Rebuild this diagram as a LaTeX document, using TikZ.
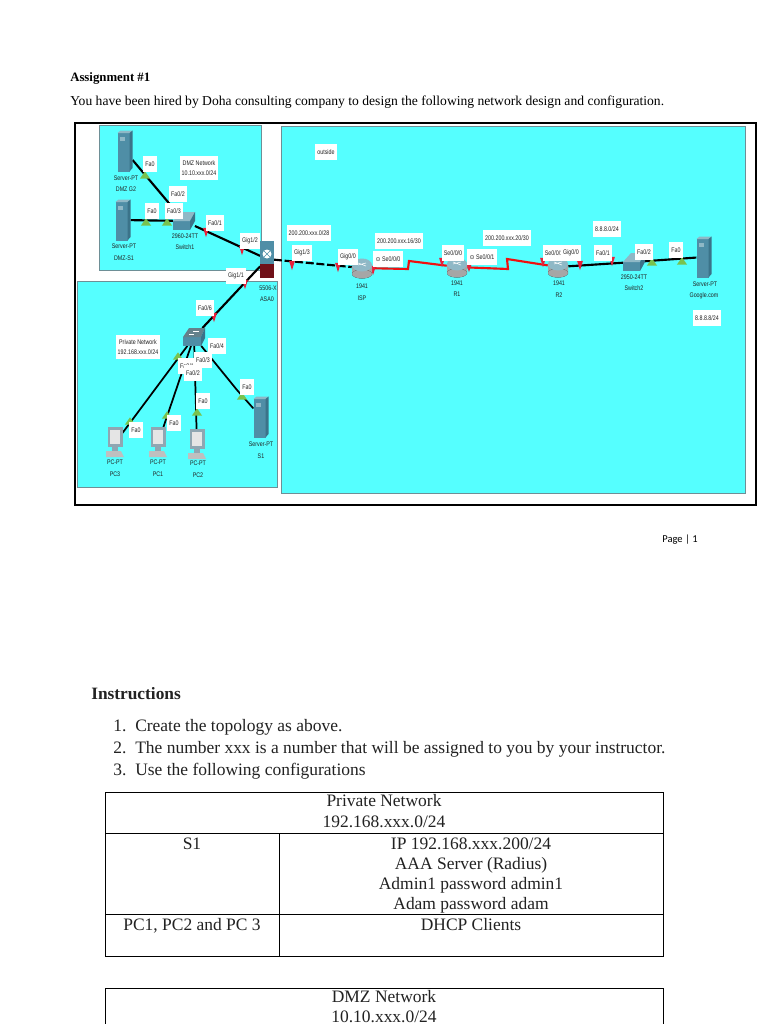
\documentclass[tikz,border=0pt]{standalone}
\usepackage{fontspec}
\usepackage{xcolor}
\setmainfont{Liberation Serif}
\newfontfamily\lblfont[FakeStretch=0.8]{Liberation Sans}
\newfontfamily\pagefont{Carlito}
\newfontfamily\clockfont{DejaVu Sans}
\usetikzlibrary{shapes.geometric, positioning}
\definecolor{panelfill}{HTML}{55FFFF}
\definecolor{paneldraw}{HTML}{6E8F96}
\definecolor{devfront}{HTML}{4F8EA6}
\definecolor{devtop}{HTML}{8FB8C6}
\definecolor{devside}{HTML}{3B7389}
\definecolor{redlink}{HTML}{F01010}
\definecolor{redtip}{HTML}{E8203A}
\definecolor{greentip}{HTML}{79C24E}
\definecolor{asared}{HTML}{701018}
\definecolor{pcgrey}{HTML}{8FA6B2}
\definecolor{inktext}{HTML}{222222}
\tikzset{
  panel/.style={draw=paneldraw, fill=panelfill, line width=0.5pt},
  lbl/.style={fill=white, inner xsep=1.6pt, inner ysep=0pt, minimum height=12.5pt, align=center, text=inktext, font=\lblfont\fontsize{5}{7.6}\selectfont},
  devtxt/.style={inner sep=0pt, text=inktext, font=\lblfont\fontsize{5}{7}\selectfont},
  devbox/.style 2 args={inner sep=0pt, minimum width=#1, minimum height=#2},
  link/.style={line width=1.6pt, draw=black},
  seriallink/.style={line width=1.6pt, draw=redlink},
  redmark/.style={isosceles triangle, isosceles triangle apex angle=35, fill=redtip, inner sep=0pt, minimum height=7pt, shape border rotate=270},
  grnmark/.style={isosceles triangle, isosceles triangle apex angle=70, fill=greentip, inner sep=0pt, minimum height=5.5pt, shape border rotate=90},
  body/.style={inner sep=0pt, text height=9pt, text depth=3pt, text=inktext, font=\fontsize{13.1}{15}\selectfont},
  rule/.style={line width=0.6pt, draw=black},
  serverpic/.pic={
    \fill[devfront] (-7.5,-18) rectangle (4.5,20.5);
    \fill[devtop] (-7.5,-18) -- (-4.5,-20.5) -- (7.5,-20.5) -- (4.5,-18) -- cycle;
    \fill[devside] (4.5,-18) -- (7.5,-20.5) -- (7.5,17) -- (4.5,20.5) -- cycle;
    \fill[devtop] (-5.5,-14) rectangle (-0.5,-10.5);
  },
  switchpic/.pic={
    \fill[devfront] (-11,0) rectangle (6,9);
    \fill[devtop] (-11,0) -- (-3,-9) -- (11,-9) -- (6,0) -- cycle;
    \fill[devside] (6,0) -- (11,-9) -- (11,0) -- (6,9) -- cycle;
  },
  mlswitchpic/.pic={
    \fill[devfront] (-11,0) rectangle (7,9);
    \fill[devtop!70!black] (-11,0) -- (-5,-9) -- (11,-9) -- (7,0) -- cycle;
    \fill[devside] (7,0) -- (11,-9) -- (11,1) -- (7,9) -- cycle;
    \draw[white, line width=0.4pt] (-5,-3) -- (0,-3) (-1,-6) -- (5,-6);
  },
  routerpic/.pic={
    \fill[left color=gray!70, middle color=white, right color=gray!70] (-10,-3) rectangle (10,6);
    \fill[left color=gray!70, middle color=white, right color=gray!70] (0,6) ellipse [x radius=10, y radius=4.5];
    \fill[devtop] (0,-3) ellipse [x radius=10, y radius=6.5];
    \draw[white, line width=0.4pt] (-4,-3) -- (4,-5) (-4,-5) -- (4,-2);
  },
  pcpic/.pic={
    \fill[pcgrey] (-7.5,-16) rectangle (7.5,4);
    \fill[gray!20] (-5,-13) rectangle (5,1);
    \fill[pcgrey] (-3,4) rectangle (3,8);
    \fill[gray!50] (-9,8) -- (6,8) -- (9,14) -- (-9,14) -- cycle;
  },
  asapic/.pic={
    \fill[devfront] (-7,-18) rectangle (7,5);
    \fill[asared] (-7,5) rectangle (7,19);
    \fill[white] (0,-5) ellipse [x radius=4.5, y radius=4.5];
    \draw[devfront, line width=0.4pt] (-3,-8) -- (3,-2) (-3,-2) -- (3,-8);
  },
}
\begin{document}
\begin{tikzpicture}[x=0.75pt, y=-0.75pt]
  \useasboundingbox (0,0) rectangle (768,1024);
  \fill[white] (0,0) rectangle (768,1024);

  % top text
  \node[anchor=west, inner sep=0pt, font=\fontsize{9.6}{12}\selectfont\bfseries] (title) at (70,78) {Assignment \#1};
  \node[anchor=west, inner sep=0pt, font=\fontsize{10.2}{12}\selectfont] (intro) at (70,102) {You have been hired by Doha consulting company to design the following network design and configuration.};

  % frame and panels
  \draw[line width=2.2pt, fill=white] (75,123) rectangle (756,505);
  \draw[panel] (99.5,125) rectangle (261.5,270);
  \draw[panel] (77,281) rectangle (277,487);
  \draw[panel] (281,126) rectangle (745,493);

  % devices
  \node[devbox={11pt}{30pt}] (srvGtwo) at (125,151) {};
  \node[devbox={11pt}{30pt}] (srvSone) at (123,220) {};
  \node[devbox={16pt}{13pt}] (swOne) at (184,221) {};
  \node[devbox={10pt}{28pt}] (asa) at (267,259) {};
  \node[devbox={16pt}{13pt}] (swPriv) at (194,337) {};
  \node[devbox={11pt}{20pt}] (pcThree) at (115,443) {};
  \node[devbox={11pt}{20pt}] (pcOne) at (158,443) {};
  \node[devbox={11pt}{20pt}] (pcTwo) at (197,445) {};
  \node[devbox={11pt}{30pt}] (srvPriv) at (261,417) {};
  \node[devbox={15pt}{15pt}] (rtISP) at (362,268) {};
  \node[devbox={15pt}{15pt}] (rtOne) at (457,267) {};
  \node[devbox={15pt}{15pt}] (rtTwo) at (558,267) {};
  \node[devbox={16pt}{13pt}] (swTwo) at (634,262) {};
  \node[devbox={11pt}{30pt}] (srvGoogle) at (704,257) {};
  \coordinate (jogAa) at (408,269);
  \coordinate (jogAb) at (409,261);
  \coordinate (jogBa) at (508,269);
  \coordinate (jogBb) at (507,259);
  \coordinate (bendPriv) at (237,390);

  % links
  \draw[link] (srvGtwo) -- (swOne);
  \draw[link] (srvSone) -- (swOne);
  \draw[link] (swOne) -- (asa);
  \draw[link] (asa) -- (swPriv);
  \draw[link, line width=1.3pt] (swPriv) -- (pcThree);
  \draw[link, line width=1.3pt] (swPriv) -- (pcOne);
  \draw[link, line width=1.3pt] (swPriv) -- (pcTwo);
  \draw[link, line width=1.3pt] (swPriv) -- (bendPriv) -- (srvPriv);
  \draw[link, dashed, dash pattern=on 6pt off 2pt] (asa) -- (rtISP);
  \draw[seriallink] (rtISP) -- (jogAa) -- (jogAb) -- (rtOne);
  \draw[seriallink] (rtOne) -- (jogBa) -- (jogBb) -- (rtTwo);
  \draw[link] (rtTwo) -- (swTwo);
  \draw[link] (swTwo) -- (srvGoogle);

  % link end marks
  \foreach \mx/\my [count=\i] in {206/230, 242/248, 245/282, 214/315, 292/263, 338/265, 373/268, 442/260, 469/265, 543/260, 580/263, 612/259}
    \node[redmark] (red\i) at (\mx,\my) {};
  \foreach \mx/\my [count=\i] in {145/176, 146/223, 167/223, 178/357, 130/422, 167/416, 197/413, 242/397, 652/263, 682/262}
    \node[grnmark] (grn\i) at (\mx,\my) {};

  % icons
  \pic at (srvGtwo) {serverpic};
  \pic at (srvSone) {serverpic};
  \pic at (swOne) {switchpic};
  \pic at (asa) {asapic};
  \pic at (swPriv) {mlswitchpic};
  \pic at (pcThree) {pcpic};
  \pic at (pcOne) {pcpic};
  \pic at (pcTwo) {pcpic};
  \pic at (srvPriv) {serverpic};
  \pic at (rtISP) {routerpic};
  \pic at (rtOne) {routerpic};
  \pic at (rtTwo) {routerpic};
  \pic at (swTwo) {switchpic};
  \pic at (srvGoogle) {serverpic};

  % device captions
  \node[devtxt] (capA) at (126,178) {Server-PT};
  \node[devtxt] (capB) at (126,189) {DMZ G2};
  \node[devtxt] (capC) at (124,246) {Server-PT};
  \node[devtxt] (capD) at (124,258) {DMZ-S1};
  \node[devtxt] (capE) at (185,236) {2960-24TT};
  \node[devtxt] (capF) at (185,247) {Switch1};
  \node[devtxt] (capG) at (268,288) {5506-X};
  \node[devtxt] (capH) at (267,299) {ASA0};
  \node[devtxt] (capI) at (115,462) {PC-PT};
  \node[devtxt] (capJ) at (115,474) {PC3};
  \node[devtxt] (capK) at (158,462) {PC-PT};
  \node[devtxt] (capL) at (158,474) {PC1};
  \node[devtxt] (capM) at (198,463) {PC-PT};
  \node[devtxt] (capN) at (198,475) {PC2};
  \node[devtxt] (capO) at (261,444) {Server-PT};
  \node[devtxt] (capP) at (261,456) {S1};
  \node[devtxt] (capQ) at (362,286) {1941};
  \node[devtxt] (capR) at (362,298) {ISP};
  \node[devtxt] (capS) at (457,283) {1941};
  \node[devtxt] (capT) at (457,294) {R1};
  \node[devtxt] (capU) at (559,283) {1941};
  \node[devtxt] (capV) at (559,295) {R2};
  \node[devtxt] (capW) at (634,277) {2950-24TT};
  \node[devtxt] (capX) at (634,288) {Switch2};
  \node[devtxt] (capY) at (705,284) {Server-PT};
  \node[devtxt] (capZ) at (704,296) {Google.com};

  % white labels
  \node[lbl, inner ysep=3pt] (lbDmz) at (199,168) {DMZ Network\\10.10.xxx.0/24};
  \node[lbl] (lbA) at (150,164) {Fa0};
  \node[lbl] (lbB) at (178,194) {Fa0/2};
  \node[lbl] (lbC) at (152,211) {Fa0};
  \node[lbl] (lbD) at (174,211) {Fa0/3};
  \node[lbl] (lbE) at (215,223) {Fa0/1};
  \node[lbl] (lbF) at (250,241) {Gig1/2};
  \node[lbl] (lbG) at (236,276) {Gig1/1};
  \node[lbl] (lbH) at (205,308) {Fa0/6};
  \node[lbl, inner ysep=3pt] (lbPriv) at (138,347) {Private Network\\192.168.xxx.0/24};
  \node[lbl] (lbI) at (217,346) {Fa0/4};
  \node[lbl] (lbJ) at (187,366) {Fa0/1};
  \node[lbl] (lbK) at (203,360) {Fa0/3};
  \node[lbl] (lbL) at (193,373) {Fa0/2};
  \node[lbl] (lbM) at (136,430) {Fa0};
  \node[lbl] (lbN) at (174,423) {Fa0};
  \node[lbl] (lbO) at (203,401) {Fa0};
  \node[lbl] (lbP) at (247,387) {Fa0};
  \node[lbl] (lbOut) at (326,152) {outside};
  \node[lbl] (lbNetA) at (309,233) {200.200.xxx.0/28};
  \node[lbl] (lbQ) at (302,253) {Gig1/3};
  \node[lbl] (lbR) at (348,257) {Gig0/0};
  \node[lbl] (lbNetB) at (399,241) {200.200.xxx.16/30};
  \node[lbl] (lbS) at (388,259) {{\clockfont\fontsize{4.5}{5}\selectfont ⊙} Se0/0/0};
  \node[lbl] (lbT) at (453,253) {Se0/0/0};
  \node[lbl] (lbU) at (482,257) {{\clockfont\fontsize{4.5}{5}\selectfont ⊙} Se0/0/1};
  \node[lbl] (lbNetC) at (507,238) {200.200.xxx.20/30};
  \node[lbl] (lbV) at (554,253) {Se0/0/1};
  \node[lbl] (lbW) at (571,253) {Gig0/0};
  \node[lbl] (lbNetD) at (607,229) {8.8.8.0/24};
  \node[lbl] (lbX) at (603,253) {Fa0/1};
  \node[lbl] (lbY) at (644,252) {Fa0/2};
  \node[lbl] (lbZ) at (676,250) {Fa0};
  \node[lbl] (lbNetE) at (707,318) {8.8.8.8/24};

  \node[anchor=west, inner sep=0pt, font=\pagefont\fontsize{7.9}{9}\selectfont] (pageno) at (662,540) {Page | 1};

  % instructions
  \node[body, anchor=west, font=\fontsize{13}{15}\selectfont\bfseries] (instr) at (91,695) {Instructions};
  \node[body, anchor=west] (numA) at (113,727) {1.};
  \node[body, anchor=west] (numB) at (113,749) {2.};
  \node[body, anchor=west] (numC) at (113,771) {3.};
  \node[body, anchor=west] (itemA) at (135,727) {Create the topology as above.};
  \node[body, anchor=west] (itemB) at (135,749) {The number xxx is a number that will be assigned to you by your instructor.};
  \node[body, anchor=west] (itemC) at (135,771) {Use the following configurations};

  % tables
  \draw[rule] (105,792) rectangle (663,956);
  \draw[rule] (105,833) -- (663,833) (105,914) -- (663,914) (279,833) -- (279,956);
  \node[body] (privA) at (384,802) {Private Network};
  \node[body] (privB) at (384,823) {192.168.xxx.0/24};
  \node[body] (cellS) at (192,845) {S1};
  \node[body] (cellA) at (471,845) {IP 192.168.xxx.200/24};
  \node[body] (cellB) at (471,865) {AAA Server (Radius)};
  \node[body] (cellC) at (471,885) {Admin1 password admin1};
  \node[body] (cellD) at (471,905) {Adam password adam};
  \node[body] (cellPc) at (192,926) {PC1, PC2 and PC 3};
  \node[body] (cellDh) at (471,926) {DHCP Clients};
  \draw[rule] (105,1030) -- (105,988) -- (663,988) -- (663,1030);
  \node[body] (dmzA) at (384,998) {DMZ Network};
  \node[body] (dmzB) at (384,1018) {10.10.xxx.0/24};
\end{tikzpicture}
\end{document}
